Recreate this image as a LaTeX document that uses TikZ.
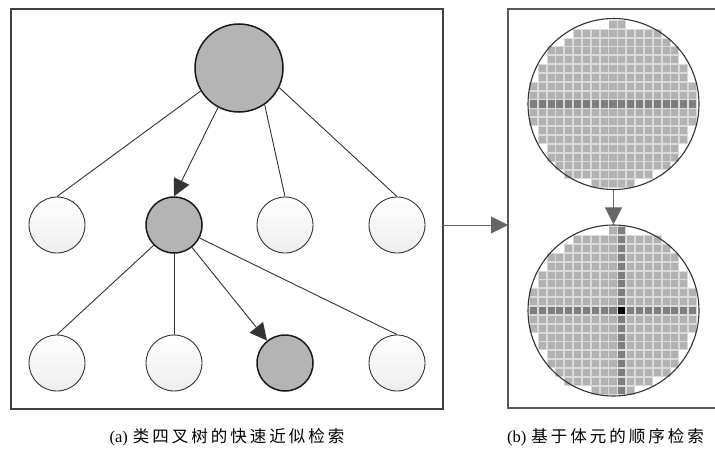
\documentclass[tikz,border=0pt]{standalone}
\usepackage{fontspec}
\setmainfont{Liberation Serif}
\newfontfamily\cjk{Noto Sans CJK SC}
\usetikzlibrary{arrows.meta}
\definecolor{nodegray}{HTML}{B4B4B4}
\definecolor{cellL}{HTML}{B2B2B2}
\definecolor{cellD}{HTML}{7E7E7E}
\definecolor{cellB}{HTML}{DADADA}
\definecolor{linec}{HTML}{333333}
\newcommand\cjkgap{\kern3pt}
\newcommand\voxgrid[2]{%
  \foreach \j/\lo/\hi in {0/9/10,1/5/14,2/4/15,3/2/16,4/2/16,5/1/17,6/1/17,7/0/18,8/0/18,9/0/18,10/0/18,11/0/18,12/1/17,13/1/17,14/2/16,15/2/16,16/3/15,17/4/13,18/7/11} {
    \foreach \k in {\lo,...,\hi} {
      \pgfmathsetmacro\xx{528.9+8.85*\k}
      \pgfmathsetmacro\yy{#1+8.85*\j}
      \def\cf{cellL}%
      \ifnum\j=9 \def\cf{cellD}\fi
      \ifnum#2=1 \ifnum\k=10 \def\cf{cellD}\ifnum\j=9 \def\cf{black}\fi\fi\fi
      \fill[cellB] (\xx,\yy) rectangle ++(8.85,8.85);
      \fill[\cf] (\xx+0.9,\yy+0.9) rectangle ++(7.05,7.05);
    }
  }%
}
\tikzset{
  graynode/.style={circle, inner sep=0pt, fill=nodegray, draw=black!90, line width=1.5pt},
  whitenode/.style={circle, inner sep=0pt, top color=white, bottom color=gray!14, draw=linec, line width=0.9pt, minimum size=56pt},
  conn/.style={draw=linec, line width=0.9pt},
  arr/.style={conn, -{Triangle[length=17pt,width=17pt]}},
  boxframe/.style={draw=black!75, line width=1.1pt},
  captext/.style={font=\fontsize{16.5}{18}\selectfont, inner sep=0pt}
}
\begin{document}
\begin{tikzpicture}[x=1pt,y=-1pt]
\useasboundingbox (0,0) rectangle (715,455);
% left panel
\node[boxframe, rectangle, minimum width=432pt, minimum height=400pt, inner sep=0pt] (boxa) at (227,209) {};
\node[graynode, minimum size=88pt] (root) at (239,68) {};
\node[whitenode] (c1) at (57,225) {};
\node[graynode, minimum size=56pt] (c2) at (174,225) {};
\node[whitenode] (c3) at (285,225) {};
\node[whitenode] (c4) at (397,225) {};
\node[whitenode] (b1) at (57,363) {};
\node[whitenode] (b2) at (174,363) {};
\node[graynode, minimum size=56pt] (b3) at (285,363) {};
\node[whitenode] (b4) at (397,363) {};
\draw[conn] (root.211) -- (c1.north);
\draw[arr] (root.242) -- (c2.north);
\draw[conn] (root.305) -- (c3.north);
\draw[conn] (root.334) -- (c4.north);
\draw[conn] (c2.225) -- (b1.north);
\draw[conn] (c2.south) -- (b2.north);
\draw[arr] (c2) -- (b3);
\draw[conn] (c2.333) -- (b4.north);
% right panel
\draw[boxframe, draw=black!65] (715,9) -- (508,9) -- (508,408) -- (715,408);
\coordinate (aout) at (443,225);
\coordinate (bin) at (508,225);
\draw[arr, draw=black!60] (aout) -- (bin);
\voxgrid{19.9}{0}
\voxgrid{226.4}{1}
\node[circle, draw=linec, line width=1.1pt, minimum size=171pt, inner sep=0pt] (vt) at (613.5,104) {};
\node[circle, draw=linec, line width=1.1pt, minimum size=171pt, inner sep=0pt] (vb) at (613.5,310.5) {};
\draw[arr, draw=black!60] (vt.south) -- (vb.north);
% captions
\node[captext] (capa) at (227,437) {(a)\kern5pt{\cjk 类\cjkgap 四\cjkgap 叉\cjkgap 树\cjkgap 的\cjkgap 快\cjkgap 速\cjkgap 近\cjkgap 似\cjkgap 检\cjkgap 索}};
\node[captext, anchor=west] (capb) at (507,437) {(b)\kern5pt{\cjk 基\cjkgap 于\cjkgap 体\cjkgap 元\cjkgap 的\cjkgap 顺\cjkgap 序\cjkgap 检\cjkgap 索}};
\end{tikzpicture}
\end{document}
